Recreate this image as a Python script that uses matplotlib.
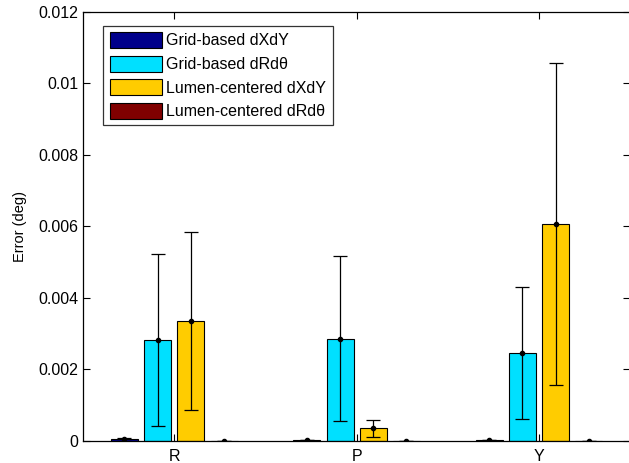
import numpy as np
import matplotlib.pyplot as plt

plt.rcParams['font.family'] = ['Liberation Sans', 'DejaVu Sans']

# angle components
categories = ['R', 'P', 'Y']
series_names = ['Grid-based dXdY', 'Grid-based dRd\u03b8',
                'Lumen-centered dXdY', 'Lumen-centered dRd\u03b8']
colours = ['#00008b', '#00e0ff', '#ffcc00', '#800000']

# mean error (deg) per method, R/P/Y
grid_xy = [0.00007, 0.00003, 0.00003]
grid_rt = [0.00283, 0.00286, 0.00246]
lumen_xy = [0.00336, 0.00035, 0.00607]
lumen_rt = [0.0, 0.0, 0.0]

# standard deviations
grid_xy_sd = [0.00002, 0.00001, 0.00001]
grid_rt_sd = [0.0024, 0.0023, 0.00185]
lumen_xy_sd = [0.00249, 0.00024, 0.0045]
lumen_rt_sd = [0.0, 0.0, 0.0]

means = [grid_xy, grid_rt, lumen_xy, lumen_rt]
sds = [grid_xy_sd, grid_rt_sd, lumen_xy_sd, lumen_rt_sd]

fig = plt.figure(figsize=(6.29, 4.63), dpi=100)
ax = fig.add_axes([0.132, 0.0475, 0.870, 0.9275])

x = np.arange(1, len(categories) + 1)
step = 0.182
width = 0.148
for i in range(4):
    xi = x + (i - 1.5) * step
    ax.bar(xi, means[i], width, color=colours[i], edgecolor='black',
           linewidth=0.8, label=series_names[i], zorder=2)
    ax.errorbar(xi, means[i], yerr=sds[i], fmt='.', color='black',
                ecolor='black', elinewidth=0.9, capsize=5, capthick=0.9,
                markersize=6, zorder=3)

ax.set_xlim(0.5, 3.5)
ax.set_ylim(0, 0.012)
ax.set_yticks(np.arange(0, 0.0121, 0.002))
ax.set_yticklabels(['0', '0.002', '0.004', '0.006', '0.008', '0.01', '0.012'])
ax.set_xticks(x)
ax.set_xticklabels(categories)
ax.tick_params(direction='in', length=5, labelsize=11.5, top=True, right=True,
               width=0.8)
ax.tick_params(axis='x', pad=6)
for s in ax.spines.values():
    s.set_linewidth(0.9)

ax.set_ylabel('Error (deg)', fontsize=10.5)
ax.yaxis.set_label_coords(-0.103, 0.5)

leg = ax.legend(loc='upper left', bbox_to_anchor=(0.037, 0.967), fontsize=11.5,
                frameon=True, fancybox=False, edgecolor='black',
                handlelength=3.3, handleheight=1.15, handletextpad=0.25,
                labelspacing=0.45, borderpad=0.4, borderaxespad=0)
leg.get_frame().set_linewidth(0.9)

fig.savefig('out.png', dpi=100)
